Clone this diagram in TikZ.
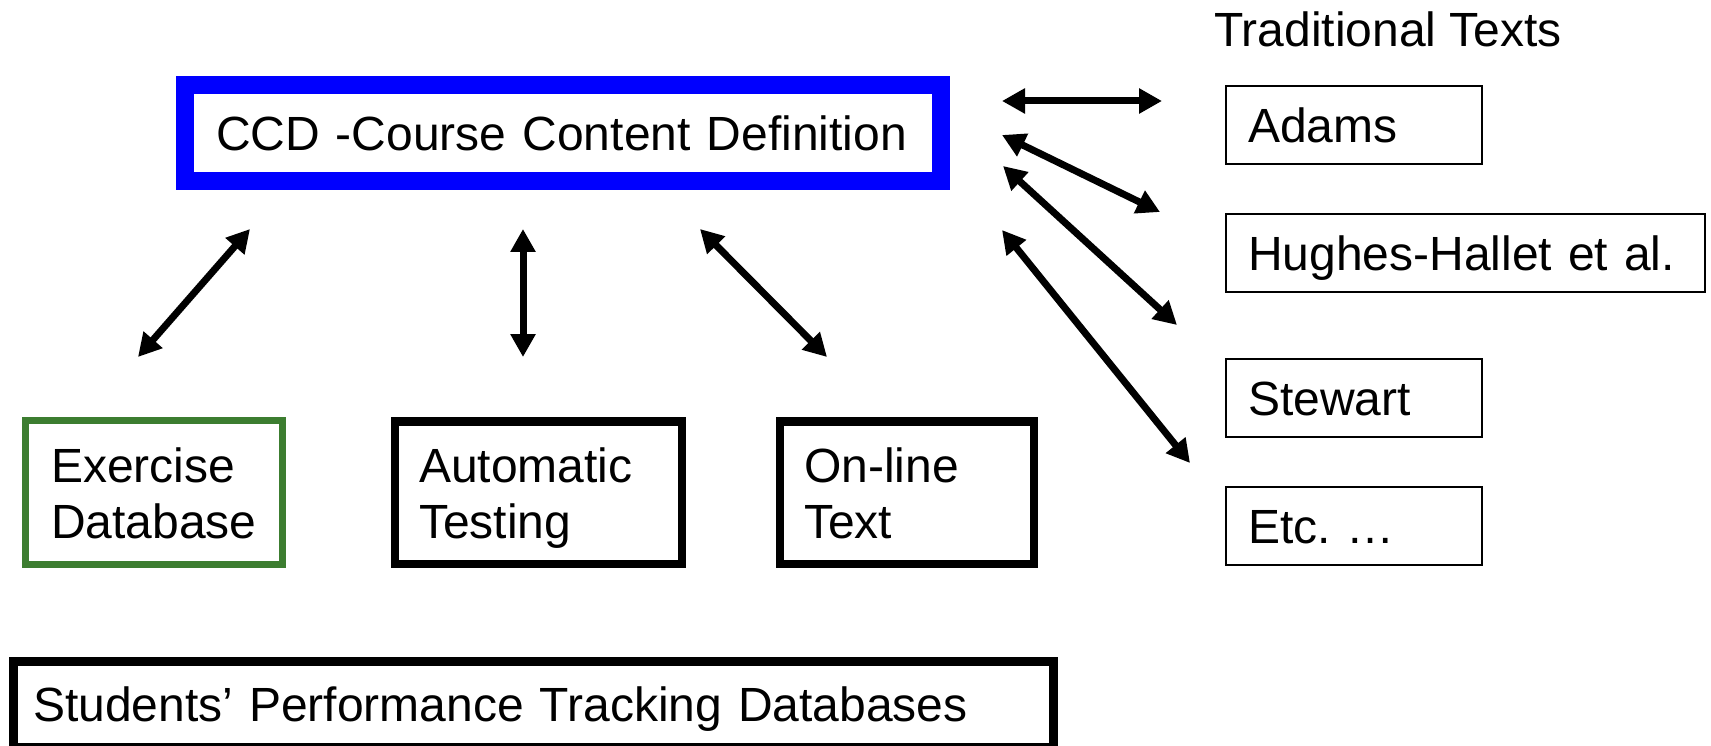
\documentclass[tikz,border=0pt]{standalone}
\usepackage{fontspec}
\setmainfont{Liberation Sans}
\usetikzlibrary{arrows.meta}
\definecolor{ccdblue}{RGB}{0,0,255}
\definecolor{exgreen}{RGB}{60,125,48}
\begin{document}
\begin{tikzpicture}[x=1pt,y=-1pt,
  every node/.style={font=\fontsize{48}{56}\selectfont},
  box/.style={draw, rectangle, inner ysep=0pt, align=left, text height=35pt},
  oneline/.style={text depth=0pt},
  twoline/.style={text depth=56pt},
  srcbox/.style={box, oneline, line width=2pt, minimum width=256pt,
    minimum height=78pt, inner xsep=22pt, text width=212pt},
  toolbox/.style={box, twoline, line width=8.5pt, minimum height=142.5pt,
    inner xsep=24pt},
  link/.style={line width=7pt,
    {Triangle[length=23pt,width=24pt]}-{Triangle[length=23pt,width=24pt]}},
]
\useasboundingbox (0,0) rectangle (1711,746);

% central definition box
\node[box, oneline, line width=18pt, draw=ccdblue, minimum width=756pt,
  minimum height=96pt, inner xsep=31pt, text width=694pt]
  (ccd) at (563,133) {CCD -Course Content Definition};

% tools built on the definition
\node[box, twoline, line width=7pt, draw=exgreen, minimum width=257pt,
  minimum height=144pt, inner xsep=25.5pt, text width=206pt]
  (exercise) at (154,492.5) {Exercise\\Database};
\node[toolbox, minimum width=287pt, text width=239pt]
  (testing) at (538.5,492.5) {Automatic\\Testing};
\node[toolbox, minimum width=254pt, text width=206pt]
  (online) at (907,492.5) {On-line\\Text};

% tracking databases
\node[box, oneline, line width=9pt, minimum width=1040pt, minimum height=86pt,
  inner xsep=20pt, text width=1000pt]
  (tracking) at (533,704) {Students’ Performance Tracking Databases};

% traditional textbooks
\node[anchor=base west, inner sep=0pt] (trad) at (1214,47) {Traditional Texts};
\node[srcbox] (adams) at (1354,125) {Adams};
\node[srcbox, minimum width=479pt, text width=435pt]
  (hughes) at (1465.5,253) {Hughes-Hallet et al.};
\node[srcbox] (stewart) at (1354,398) {Stewart};
\node[srcbox] (etc) at (1354,526) {Etc.\ …};

% arrow end points
\coordinate (t1a) at (1002,101);  \coordinate (t1b) at (1162,101);
\coordinate (t2a) at (1002,135);  \coordinate (t2b) at (1160,212);
\coordinate (t3a) at (1003,166);  \coordinate (t3b) at (1177,325);
\coordinate (t4a) at (1002,230);  \coordinate (t4b) at (1190,463);
\coordinate (b1a) at (250,229);   \coordinate (b1b) at (138,357);
\coordinate (b2a) at (523,229);   \coordinate (b2b) at (523,357);
\coordinate (b3a) at (700,229);   \coordinate (b3b) at (827,357);

\draw[link] (t1a) -- (t1b);
\draw[link] (t2a) -- (t2b);
\draw[link] (t3a) -- (t3b);
\draw[link] (t4a) -- (t4b);
\draw[link] (b1a) -- (b1b);
\draw[link] (b2a) -- (b2b);
\draw[link] (b3a) -- (b3b);
\end{tikzpicture}
\end{document}
